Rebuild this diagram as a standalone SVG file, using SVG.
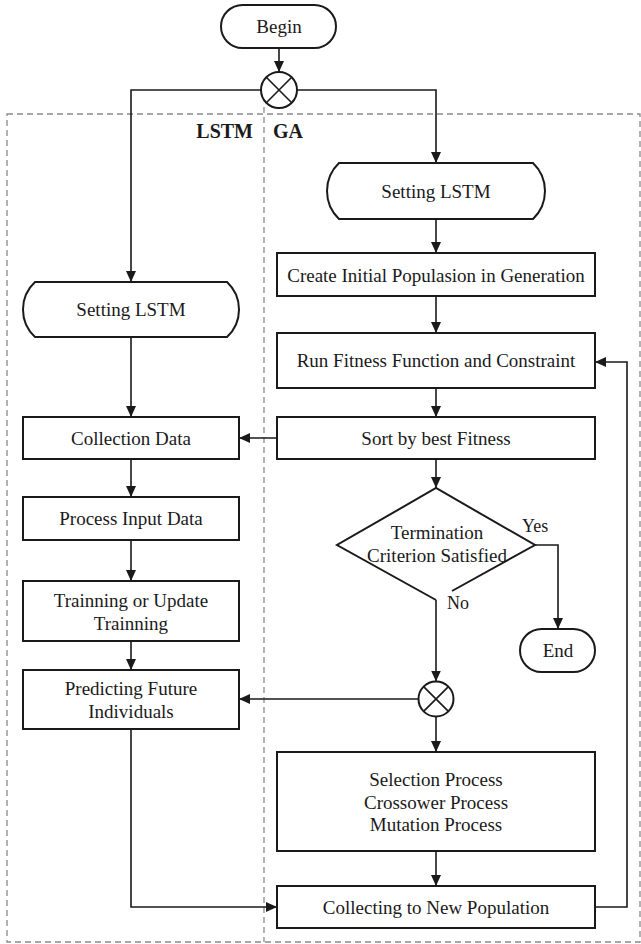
<svg xmlns="http://www.w3.org/2000/svg" width="641" height="944" viewBox="0 0 641 944">
<style>
.n{fill:#fff;stroke:#1a1a1a;stroke-width:2}
.t{font-family:"Liberation Serif","Times New Roman",serif;font-size:19px;fill:#1a1a1a;text-anchor:middle}
.lb{font-family:"Liberation Serif","Times New Roman",serif;font-size:18px;fill:#1a1a1a}
.b{font-family:"Liberation Serif","Times New Roman",serif;font-size:20px;font-weight:bold;fill:#1a1a1a}
.c{fill:none;stroke:#1a1a1a;stroke-width:1.6}
.d{fill:none;stroke:#8a8a8a;stroke-width:1.3;stroke-dasharray:6 4}
</style>
<defs>
<marker id="ah" markerUnits="userSpaceOnUse" markerWidth="12" markerHeight="10" refX="11" refY="5" orient="auto">
<path d="M0,0 L11,5 L0,10 Z" fill="#1a1a1a"/>
</marker>
</defs>
<rect fill="#fff" x="0" y="0" width="641" height="944"/>
<g id="frame">
<rect class="d" x="7" y="114" width="633" height="828"/>
<line class="d" x1="264" y1="107" x2="264" y2="942"/>
<text class="b" x="253" y="138" text-anchor="end">LSTM</text>
<text class="b" x="273" y="138">GA</text>
</g>
<g id="connectors">
<path class="c" d="M279,48 V72" marker-end="url(#ah)"/>
<path class="c" d="M261,90 H131 V282" marker-end="url(#ah)"/>
<path class="c" d="M297,90 H436 V163" marker-end="url(#ah)"/>
<path class="c" d="M436,219 V253" marker-end="url(#ah)"/>
<path class="c" d="M436,296 V333" marker-end="url(#ah)"/>
<path class="c" d="M436,388 V417" marker-end="url(#ah)"/>
<path class="c" d="M277,438 H239" marker-end="url(#ah)"/>
<path class="c" d="M436,459 V488" marker-end="url(#ah)"/>
<path class="c" d="M535,545 H558 V629" marker-end="url(#ah)"/>
<path class="c" d="M436,600 V681.5" marker-end="url(#ah)"/>
<path class="c" d="M418.5,699 H239" marker-end="url(#ah)"/>
<path class="c" d="M436,716.5 V752" marker-end="url(#ah)"/>
<path class="c" d="M436,851 V886" marker-end="url(#ah)"/>
<path class="c" d="M595,907 H627 V362 H595" marker-end="url(#ah)"/>
<path class="c" d="M131,337 V417" marker-end="url(#ah)"/>
<path class="c" d="M131,459 V497" marker-end="url(#ah)"/>
<path class="c" d="M131,540 V581" marker-end="url(#ah)"/>
<path class="c" d="M131,641 V670" marker-end="url(#ah)"/>
<path class="c" d="M131,729 V907 H277" marker-end="url(#ah)"/>
</g>
<g id="begin">
<rect class="n" x="221" y="5" width="115" height="43" rx="21.5"/>
<text class="t" x="279" y="33">Begin</text>
</g>
<g id="split">
<circle class="n" cx="279" cy="90" r="18"/>
<path class="c" d="M266.3,77.3 L291.7,102.7 M291.7,77.3 L266.3,102.7"/>
</g>
<g id="setting-lstm-ga">
<path class="n" d="M339,163 H533 A38.7,38.7 0 0 1 533,219 H339 A38.7,38.7 0 0 1 339,163 Z"/>
<text class="t" x="436" y="197.5">Setting LSTM</text>
</g>
<g id="create">
<rect class="n" x="277" y="253" width="318" height="43"/>
<text class="t" x="436" y="281.5">Create Initial Populasion in Generation</text>
</g>
<g id="run">
<rect class="n" x="277" y="333" width="318" height="55"/>
<text class="t" x="436" y="367">Run Fitness Function and Constraint</text>
</g>
<g id="sort">
<rect class="n" x="277" y="417" width="318" height="42"/>
<text class="t" x="436" y="444.5">Sort by best Fitness</text>
</g>
<g id="termination">
<path fill="#fff" stroke="none" d="M436,488 L535,545 L436,600 L337,545 Z"/>
<path class="n" fill="none" d="M452,591 L535,545 L436,488 L337,545 L436,600"/>
<text class="t" x="437" y="539">Termination</text>
<text class="t" x="437" y="562">Criterion Satisfied</text>
<text class="lb" x="522" y="532">Yes</text>
<text class="lb" x="447" y="609">No</text>
</g>
<g id="end">
<rect class="n" x="520" y="629" width="75" height="43" rx="21.5"/>
<text class="t" x="558" y="657">End</text>
</g>
<g id="merge">
<circle class="n" cx="436" cy="699" r="17.5"/>
<path class="c" d="M423.6,686.6 L448.4,711.4 M448.4,686.6 L423.6,711.4"/>
</g>
<g id="operators">
<rect class="n" x="277" y="752" width="318" height="99"/>
<text class="t" x="436" y="785.5">Selection Process</text>
<text class="t" x="436" y="808.5">Crossower Process</text>
<text class="t" x="436" y="830.5">Mutation Process</text>
</g>
<g id="collecting">
<rect class="n" x="277" y="886" width="318" height="42"/>
<text class="t" x="436" y="913.5">Collecting to New Population</text>
</g>
<g id="setting-lstm">
<path class="n" d="M35,282 H227 A37.5,37.5 0 0 1 227,337 H35 A37.5,37.5 0 0 1 35,282 Z"/>
<text class="t" x="131" y="316">Setting LSTM</text>
</g>
<g id="collection">
<rect class="n" x="23" y="417" width="216" height="42"/>
<text class="t" x="131" y="444.5">Collection Data</text>
</g>
<g id="process">
<rect class="n" x="23" y="497" width="216" height="43"/>
<text class="t" x="131" y="525">Process Input Data</text>
</g>
<g id="training">
<rect class="n" x="23" y="581" width="216" height="60"/>
<text class="t" x="131" y="606.5">Trainning or Update</text>
<text class="t" x="131" y="629.5">Trainning</text>
</g>
<g id="predicting">
<rect class="n" x="23" y="670" width="216" height="59"/>
<text class="t" x="131" y="694.5">Predicting Future</text>
<text class="t" x="131" y="717.5">Individuals</text>
</g>
</svg>
